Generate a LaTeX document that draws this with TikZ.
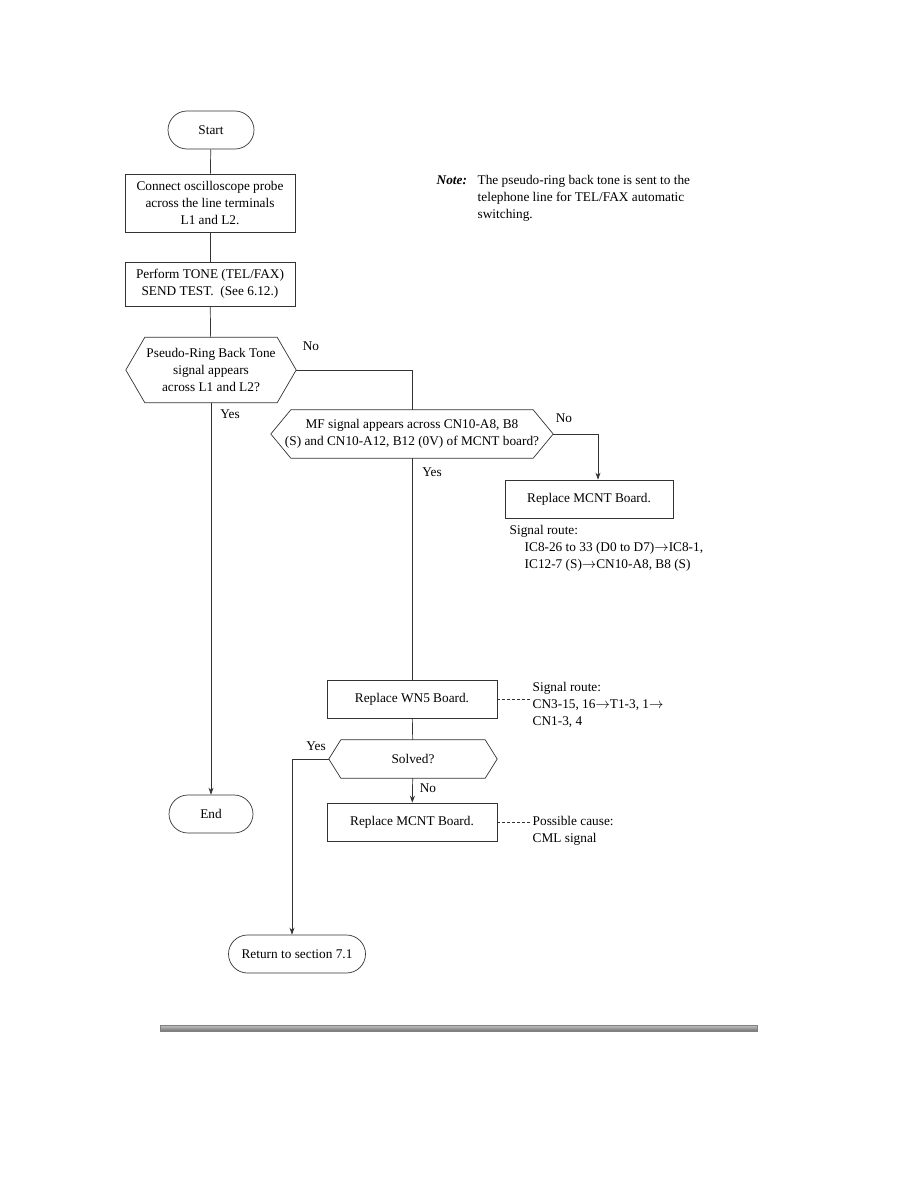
\documentclass[tikz,border=0pt]{standalone}
\usepackage{fontspec}
\setmainfont{Liberation Serif}
\usetikzlibrary{arrows.meta,positioning,shapes.misc,calc}
\tikzset{
  term/.style={draw=black!80, line width=0.7pt, rounded rectangle, align=center, minimum height=38pt, inner sep=2pt, font=\fontsize{13.3}{17}\selectfont},
  proc/.style={draw=black!80, line width=0.7pt, rectangle, align=center, minimum width=170pt, minimum height=38pt, inner sep=2pt, font=\fontsize{13.3}{17}\selectfont},
  decision/.style={rectangle, align=center, inner sep=2pt, font=\fontsize{13.3}{17}\selectfont,
    append after command={\pgfextra{\draw[line] (\tikzlastnode.west) -- ([xshift=#1]\tikzlastnode.north west)
      -- ([xshift=-#1]\tikzlastnode.north east) -- (\tikzlastnode.east) -- ([xshift=-#1]\tikzlastnode.south east)
      -- ([xshift=#1]\tikzlastnode.south west) -- cycle;}}},
  note/.style={align=left, inner sep=1.5pt, font=\fontsize{13.3}{17}\selectfont},
  lbl/.style={inner sep=0pt, font=\fontsize{13.3}{17}\selectfont},
  line/.style={draw=black!80, line width=0.7pt},
  arrow/.style={line, -{Stealth[length=7pt,width=5pt]}},
  dashline/.style={draw=black!80, line width=0.6pt, dash pattern=on 3pt off 2pt}
}
\begin{document}
\begin{tikzpicture}[x=1pt, y=-1pt]
  \useasboundingbox (0,0) rectangle (918,1188);
  % main column
  \node[term, minimum width=90pt] (start) at (211,130) {Start};
  \node[proc, minimum height=58pt] (probe) at (210,203) {Connect oscilloscope probe\\across the line terminals\\L1 and L2.};
  \node[proc, minimum height=44pt] (tone) at (210,284) {Perform TONE (TEL/FAX)\\SEND TEST.~ (See 6.12.)};
  \node[decision=19pt, minimum width=170pt, minimum height=65pt] (ring) at (211,370) {Pseudo-Ring Back Tone\\signal appears\\across L1 and L2?};
  \node[term, minimum width=88pt] (end) at (211,814) {End};
  % right branch
  \node[decision=20pt, minimum width=282pt, minimum height=48pt] (mf) at (412,434) {MF signal appears across CN10-A8, B8\\(S) and CN10-A12, B12 (0V) of MCNT board?};
  \node[proc, minimum width=168pt] (mcntA) at (589,499) {Replace MCNT Board.};
  \node[note, anchor=north west] (routeA) at (508,524) {Signal route:\\\hspace*{15pt}IC8-26 to 33 (D0 to D7)$\rightarrow$IC8-1,\\\hspace*{15pt}IC12-7 (S)$\rightarrow$CN10-A8, B8 (S)};
  \node[proc] (wn5) at (412,699) {Replace WN5 Board.};
  \node[note, anchor=west] (routeB) at (531,705) {Signal route:\\CN3-15, 16$\rightarrow$T1-3, 1$\rightarrow$\\CN1-3, 4};
  \node[decision=12pt, minimum width=168pt, minimum height=38pt] (solved) at (413,759) {Solved?};
  \node[proc] (mcntB) at (412,822) {Replace MCNT Board.};
  \node[note, anchor=west] (cause) at (531,831) {Possible cause:\\CML signal};
  \node[term, minimum width=141pt] (back) at (297,954) {Return to section 7.1};
  % note
  \node[note, anchor=north west] (notehd) at (435,174) {\textbf{\textit{Note:}}};
  \node[note, anchor=north west] (notetxt) at (476,174) {The pseudo-ring back tone is sent to the\\telephone line for TEL/FAX automatic\\switching.};
  % branch labels
  \node[lbl] (noA) at (311,346) {No};
  \node[lbl] (yesA) at (230,414) {Yes};
  \node[lbl] (noB) at (564,418) {No};
  \node[lbl] (yesB) at (432,472) {Yes};
  \node[lbl] (yesC) at (316,746) {Yes};
  \node[lbl] (noC) at (428,788) {No};
  % connectors
  \draw[line] (start) -- (probe);
  \draw[line] (probe) -- (tone);
  \draw[line] (tone) -- (ring);
  \draw[arrow] (ring) -- (end);
  \draw[line] (ring.east) -| (mf.north);
  \draw[arrow] (mf.east) -| ([xshift=9pt]mcntA.north);
  \draw[line] (mf) -- (wn5);
  \draw[line] (wn5) -- (solved);
  \draw[arrow] (solved) -- (mcntB);
  \draw[arrow] (solved.west) -| ([xshift=-5pt]back.north);
  \draw[dashline] (wn5.east) -- (wn5.east -| routeB.west);
  \draw[dashline] (mcntB.east) -- (mcntB.east -| cause.west);
  % page rule
  \shade[top color=black!22, bottom color=black!55] (160,1025) rectangle (757,1031);
  \draw[black!50, line width=0.4pt] (160,1025) rectangle (757,1031);
\end{tikzpicture}
\end{document}
